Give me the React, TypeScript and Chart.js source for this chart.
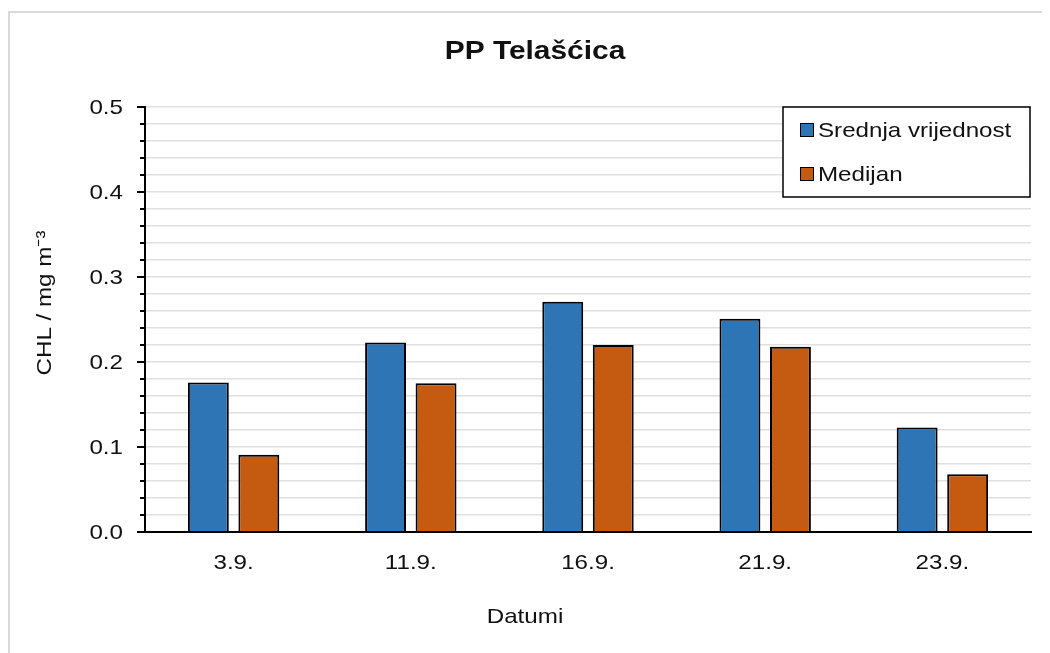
import React, { useEffect, useRef } from "react";
import { Chart, registerables } from "chart.js";

Chart.register(...registerables);

const categories = ["3.9.", "11.9.", "16.9.", "21.9.", "23.9."];
const meanValues = [0.176, 0.223, 0.271, 0.251, 0.123];
const medianValues = [0.091, 0.175, 0.22, 0.218, 0.068];
const seriesNames = ["Srednja vrijednost", "Medijan"];
const seriesColors = ["#2E75B6", "#C55A11"];
const yTickLabels = ["0.0", "0.1", "0.2", "0.3", "0.4", "0.5"];
const titleText = "PP Telašćica";
const xTitle = "Datumi";
const yTitle = "CHL / mg m⁻³";

const FONT = "'Liberation Sans', Arial, sans-serif";
const TXT = "#111";
const SX = 1.15;

function stretchText(
  ctx: CanvasRenderingContext2D,
  text: string,
  x: number,
  y: number,
  align: CanvasTextAlign,
  font: string,
  rotate = 0
) {
  ctx.save();
  ctx.translate(x, y);
  if (rotate) ctx.rotate(rotate);
  ctx.scale(SX, 1);
  ctx.font = font;
  ctx.textAlign = align;
  ctx.textBaseline = "middle";
  ctx.fillStyle = TXT;
  ctx.fillText(text, 0, 0);
  ctx.restore();
}

const decorPlugin = {
  id: "decor",
  beforeDraw(chart: any) {
    const ctx = chart.ctx;
    ctx.save();
    ctx.strokeStyle = "#d9d9d9";
    ctx.lineWidth = 2;
    ctx.beginPath();
    ctx.moveTo(1, chart.height + 5);
    ctx.lineTo(1, 4);
    ctx.lineTo(chart.width + 5, 4);
    ctx.stroke();
    ctx.restore();
  },
  afterDraw(chart: any) {
    const ctx = chart.ctx;
    const y = chart.scales.y;
    const x = chart.scales.x;
    const area = chart.chartArea;
    const f21 = `21px ${FONT}`;
    ctx.save();
    // y tick marks
    ctx.strokeStyle = "#000";
    ctx.lineWidth = 2;
    y.ticks.forEach((t: any) => {
      const major = Math.round(t.value * 50) % 5 === 0;
      const py = Math.round(y.getPixelForValue(t.value));
      ctx.beginPath();
      ctx.moveTo(area.left - (major ? 8 : 5), py);
      ctx.lineTo(area.left, py);
      ctx.stroke();
    });
    // y tick labels
    yTickLabels.forEach((lab) => {
      const py = y.getPixelForValue(Number(lab));
      stretchText(ctx, lab, 115, py + 1, "right", f21);
    });
    // x tick labels
    categories.forEach((c, i) => {
      stretchText(ctx, c, x.getPixelForTick(i), 555, "center", f21);
    });
    // title
    stretchText(ctx, titleText, 527, 44, "center", `bold 26px ${FONT}`);
    // x title
    stretchText(ctx, xTitle, 517, 609, "center", f21);
    // y title
    stretchText(ctx, yTitle, 37, 295, "center", f21, -Math.PI / 2);
    // legend
    const lx = 775, ly = 99, lw = 247, lh = 90;
    ctx.fillStyle = "#fff";
    ctx.fillRect(lx, ly, lw, lh);
    ctx.strokeStyle = "#000";
    ctx.lineWidth = 1.5;
    ctx.strokeRect(lx, ly, lw, lh);
    const rows = [122, 166];
    seriesNames.forEach((name, i) => {
      const cy = rows[i];
      ctx.fillStyle = seriesColors[i];
      ctx.fillRect(792, cy - 7, 14, 14);
      ctx.strokeStyle = "#000";
      ctx.lineWidth = 1;
      ctx.strokeRect(792.5, cy - 6.5, 13, 13);
      stretchText(ctx, name, 810, cy + 1, "left", f21);
    });
    ctx.restore();
  },
};

export default function App() {
  const ref = useRef<HTMLCanvasElement>(null);
  useEffect(() => {
    if (!ref.current) return;
    const chart = new Chart(ref.current, {
      type: "bar",
      data: {
        labels: categories,
        datasets: [
          {
            label: seriesNames[0],
            data: meanValues,
            backgroundColor: seriesColors[0],
            borderColor: "#000",
            borderWidth: 2,
            barPercentage: 0.81,
            categoryPercentage: 0.57,
          },
          {
            label: seriesNames[1],
            data: medianValues,
            backgroundColor: seriesColors[1],
            borderColor: "#000",
            borderWidth: 2,
            barPercentage: 0.81,
            categoryPercentage: 0.57,
          },
        ],
      },
      options: {
        animation: false,
        responsive: false,
        devicePixelRatio: 1,
        layout: { padding: { left: 0, top: 99, right: 19, bottom: 0 } },
        plugins: {
          legend: { display: false },
          title: { display: false },
          tooltip: { enabled: false },
        },
        scales: {
          x: {
            grid: { display: false, drawTicks: false },
            border: { color: "#000", width: 2 },
            ticks: { display: false },
            afterFit: (s: any) => {
              s.height = 121;
            },
          },
          y: {
            min: 0,
            max: 0.5,
            grid: {
              color: "#e0e0e0",
              lineWidth: 1.5,
              drawTicks: false,
            },
            border: { color: "#000", width: 2 },
            ticks: {
              stepSize: 0.02,
              autoSkip: false,
              display: false,
            },
            afterFit: (s: any) => {
              s.width = 137;
            },
          },
        },
      },
      plugins: [decorPlugin],
    });
    return () => chart.destroy();
  }, []);
  return (
    <canvas
      ref={ref}
      width={1042}
      height={645}
      style={{ display: "block", width: 1042, height: 645 }}
    />
  );
}
